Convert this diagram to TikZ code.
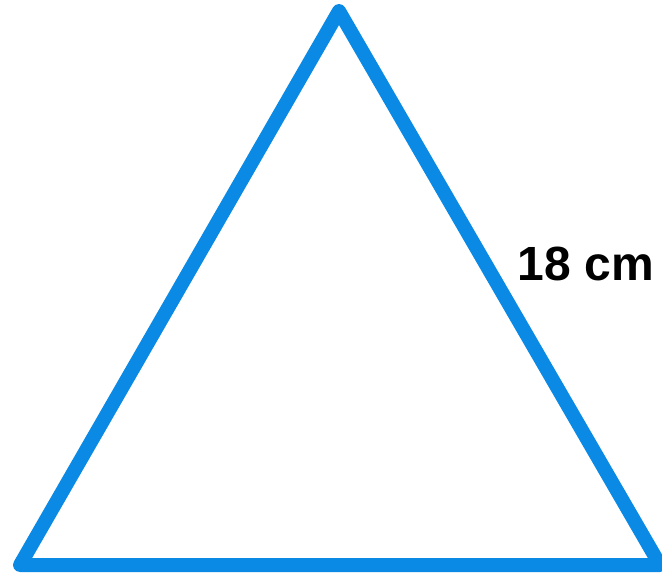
\documentclass[tikz,border=0pt]{standalone}
\usepackage{fontspec}
\setmainfont{Liberation Sans}
\definecolor{triblue}{RGB}{10,138,229}
\begin{document}
\begin{tikzpicture}[x=1pt,y=-1pt,
  edge/.style={draw=triblue,line width=14pt,line join=round,line cap=round},
  lbl/.style={font=\fontsize{48}{48}\selectfont\bfseries,inner sep=0pt,anchor=base}]
\useasboundingbox (0,0) rectangle (662,576);
\coordinate (A) at (339,11);
\coordinate (B) at (20,565);
\coordinate (C) at (660,565);
\draw[edge] (A) -- (B) -- (C) -- cycle;
\node[lbl] (L) at (586,280) {18 cm};
\end{tikzpicture}
\end{document}
